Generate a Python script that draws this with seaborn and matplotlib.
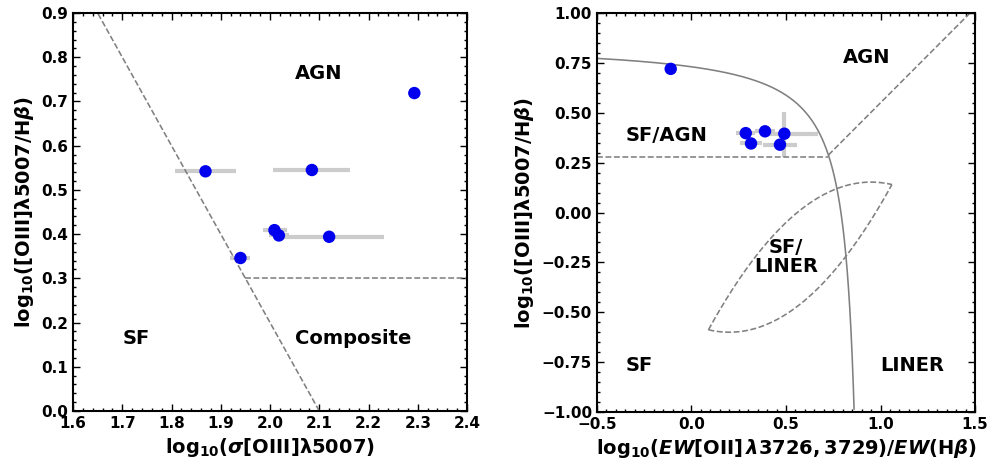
import numpy as np
import pandas as pd
import matplotlib
matplotlib.use("Agg")
import matplotlib.pyplot as plt
from matplotlib.ticker import MultipleLocator
import seaborn as sns

# ---------------- data ----------------
# Left panel: log10(sigma[OIII]) vs log10([OIII]/Hb)
sigma_x = [1.869, 2.085, 2.293, 2.009, 2.018, 2.120, 1.940]
o3_left = [0.542, 0.545, 0.719, 0.409, 0.397, 0.394, 0.346]
sigma_err_lo = [0.061, 0.078, 0.0, 0.024, 0.021, 0.110, 0.021]
sigma_err_hi = [0.062, 0.077, 0.0, 0.025, 0.021, 0.112, 0.020]

# Right panel: log10(EW[OII]/EW(Hb)) vs log10([OIII]/Hb)
ew_x = [-0.11, 0.287, 0.389, 0.491, 0.315, 0.468]
o3_right = [0.720, 0.398, 0.407, 0.395, 0.346, 0.340]
ew_err_lo = [0.0, 0.050, 0.053, 0.090, 0.058, 0.088]
ew_err_hi = [0.0, 0.050, 0.053, 0.180, 0.058, 0.088]
o3r_err_lo = [0.0, 0.0, 0.0, 0.115, 0.0, 0.0]
o3r_err_hi = [0.0, 0.0, 0.0, 0.110, 0.0, 0.0]

left_xticks = [1.6, 1.7, 1.8, 1.9, 2.0, 2.1, 2.2, 2.3, 2.4]
left_yticks = [0.0, 0.1, 0.2, 0.3, 0.4, 0.5, 0.6, 0.7, 0.8, 0.9]
right_xticks = [-0.5, 0.0, 0.5, 1.0, 1.5]
right_yticks = [-1.0, -0.75, -0.5, -0.25, 0.0, 0.25, 0.5, 0.75, 1.0]

# demarcation-line parameters
left_div_slope, left_div_x0 = -2.0, 2.1          # y = slope*(x - x0)
left_comp_y = 0.3
curve_a, curve_b, curve_c = 0.11, 0.92, 0.85     # y = a/(x-b)+c
agn_liner_m, agn_liner_q = 0.95, -0.40           # y = m x + q
sfagn_y = 0.28

left_labels = [("AGN", 2.05, 0.742), ("SF", 1.70, 0.142), ("Composite", 2.05, 0.142)]
right_labels = [("AGN", 0.80, 0.73), ("SF/AGN", -0.35, 0.34), ("SF", -0.35, -0.815),
                ("LINER", 1.00, -0.815)]

# ---------------- style ----------------
sns.set_style("ticks")
plt.rcParams["font.family"] = ["DejaVu Sans"]
plt.rcParams["font.weight"] = "bold"
plt.rcParams["axes.labelweight"] = "bold"
plt.rcParams["text.color"] = "black"
plt.rcParams["axes.labelcolor"] = "black"
plt.rcParams["xtick.color"] = "black"
plt.rcParams["ytick.color"] = "black"
plt.rcParams["axes.edgecolor"] = "black"
plt.rcParams["mathtext.fontset"] = "custom"
plt.rcParams["mathtext.rm"] = "DejaVu Sans:bold"
plt.rcParams["mathtext.bf"] = "DejaVu Sans:bold"
plt.rcParams["mathtext.it"] = "DejaVu Sans:bold:italic"

fig = plt.figure(figsize=(9.92, 4.63), dpi=100)
axL = fig.add_axes([0.0736, 0.1123, 0.3972, 0.8596])
axR = fig.add_axes([0.6018, 0.1101, 0.3811, 0.8618])

grey = "#808080"
errc = "#cccccc"
blue = "#0000ee"
lw_line = 1.15

def style_axis(ax):
    for s in ax.spines.values():
        s.set_linewidth(1.5)
        s.set_color("black")
        s.set_visible(True)
    ax.tick_params(which="both", direction="in", top=True, right=True,
                   labelsize=11, width=1.0, color="black", labelcolor="black")
    ax.tick_params(which="major", length=5)
    ax.tick_params(which="minor", length=2.5)
    for lab in ax.get_xticklabels() + ax.get_yticklabels():
        lab.set_fontweight("bold")

# ---- left panel ----
dfL = pd.DataFrame({"x": sigma_x, "y": o3_left})
axL.errorbar(sigma_x, o3_left, xerr=[sigma_err_lo, sigma_err_hi], fmt="none",
             ecolor=errc, elinewidth=3, capsize=0, zorder=1)
xx = np.linspace(1.6, 2.4, 400)
yy = left_div_slope * (xx - left_div_x0)
axL.plot(xx, yy, ls="--", color=grey, lw=lw_line, zorder=2)
x_start = left_div_x0 + left_comp_y / left_div_slope
axL.plot([x_start, 2.4], [left_comp_y, left_comp_y], ls="--", color=grey, lw=lw_line, zorder=2)
sns.scatterplot(data=dfL, x="x", y="y", ax=axL, color=blue, s=80, edgecolor="none",
                zorder=3, legend=False)
for t, x, y in left_labels:
    axL.text(x, y, t, fontsize=14, fontweight="bold", ha="left", va="bottom")
axL.set_xlim(1.6, 2.4)
axL.set_ylim(0.0, 0.9)
axL.set_xticks(left_xticks)
axL.set_yticks(left_yticks)
axL.xaxis.set_minor_locator(MultipleLocator(0.02))
axL.yaxis.set_minor_locator(MultipleLocator(0.02))
axL.set_xticklabels([f"{v:.1f}" for v in left_xticks])
axL.set_yticklabels([f"{v:.1f}" for v in left_yticks])
axL.set_xlabel(r"log$_{10}$($\sigma$[OIII]λ5007)", fontsize=14, fontweight="bold")
axL.set_ylabel(r"log$_{10}$([OIII]λ5007/H$\beta$)", fontsize=14, fontweight="bold")
style_axis(axL)

# ---- right panel ----
dfR = pd.DataFrame({"x": ew_x, "y": o3_right})
axR.errorbar(ew_x, o3_right, xerr=[ew_err_lo, ew_err_hi], yerr=[o3r_err_lo, o3r_err_hi],
             fmt="none", ecolor=errc, elinewidth=3, capsize=0, zorder=1)
xc = np.linspace(-0.5, curve_b - 0.001, 2000)
yc = curve_a / (xc - curve_b) + curve_c
m = yc >= -1.0
axR.plot(xc[m], yc[m], color=grey, lw=lw_line, zorder=2)
# intersection of AGN/LINER line with curve
diff = agn_liner_m * xc + agn_liner_q - yc
sel = xc > 0.3
xi = xc[sel][np.argmin(np.abs(diff[sel]))]
yi = agn_liner_m * xi + agn_liner_q
x_end = (1.0 - agn_liner_q) / agn_liner_m
axR.plot([xi, x_end], [yi, 1.0], ls="--", color=grey, lw=lw_line, zorder=2)
axR.plot([-0.5, xi], [sfagn_y, sfagn_y], ls="--", color=grey, lw=lw_line, zorder=2)
# SF/LINER lens
r = np.roots([2.0, -2.3, 0.19])
x1, x2 = min(r), max(r)
xl = np.linspace(x1, x2, 300)
yu = -(xl - 1.0) ** 2 - 0.1 * xl + 0.25
yl = (xl - 0.2) ** 2 - 0.6
axR.plot(xl, yu, ls="--", color=grey, lw=lw_line, zorder=2)
axR.plot(xl, yl, ls="--", color=grey, lw=lw_line, zorder=2)
sns.scatterplot(data=dfR, x="x", y="y", ax=axR, color=blue, s=80, edgecolor="none",
                zorder=3, legend=False)
for t, x, y in right_labels:
    axR.text(x, y, t, fontsize=14, fontweight="bold", ha="left", va="bottom")
axR.text(0.50, -0.225, "SF/\nLINER", fontsize=14, fontweight="bold", ha="center",
         va="center", linespacing=1.0)
axR.set_xlim(-0.5, 1.5)
axR.set_ylim(-1.0, 1.0)
axR.set_xticks(right_xticks)
axR.set_yticks(right_yticks)
axR.xaxis.set_minor_locator(MultipleLocator(0.05))
axR.yaxis.set_minor_locator(MultipleLocator(0.05))
axR.set_xticklabels([f"{v:.1f}".replace("-", "\u2212") for v in right_xticks])
axR.set_yticklabels([f"{v:.2f}".replace("-", "\u2212") for v in right_yticks])
axR.set_xlabel(r"log$_{10}$($EW$[OII]$\,λ3726,3729$)/$EW$(H$\beta$)", fontsize=14,
               fontweight="bold")
axR.set_ylabel(r"log$_{10}$([OIII]λ5007/H$\beta$)", fontsize=14, fontweight="bold")
style_axis(axR)

fig.savefig("out.png", dpi=100)
